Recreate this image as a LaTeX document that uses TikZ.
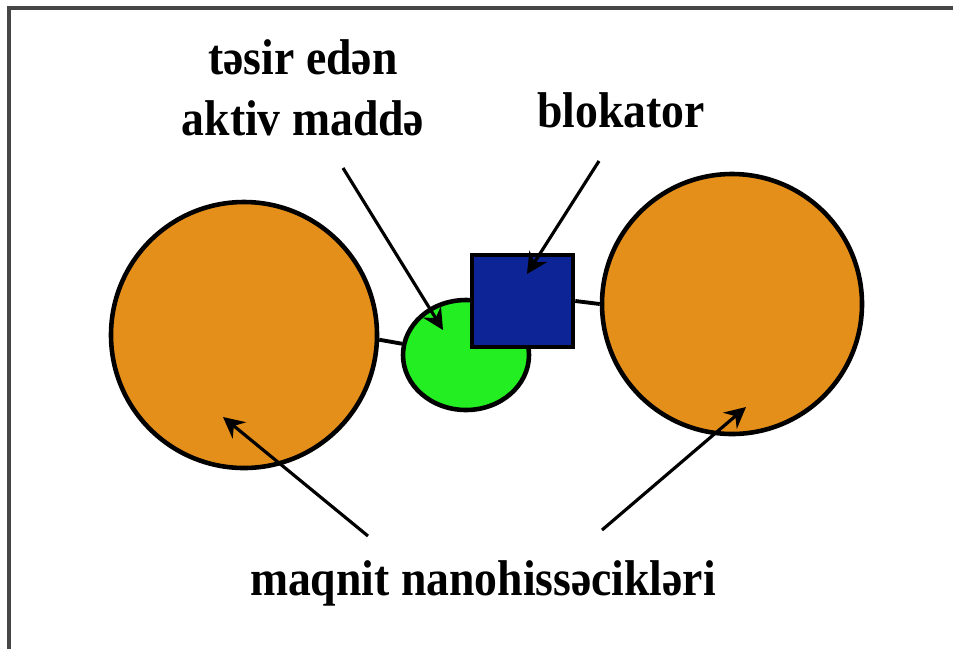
\documentclass[tikz,border=0pt]{standalone}
\usepackage{fontspec}
\setmainfont{Liberation Serif}
\usepackage{xcolor}
\usetikzlibrary{shapes.geometric,arrows.meta,positioning}
\definecolor{nanoorange}{RGB}{229,143,27}
\definecolor{druggreen}{RGB}{34,238,34}
\definecolor{blockblue}{RGB}{12,36,150}
\definecolor{framegray}{RGB}{70,70,70}

\begin{document}
\begin{tikzpicture}[
    particle/.style={draw, circle, fill=nanoorange, line width=1.3pt, inner sep=0pt},
    drug/.style={draw, ellipse, fill=druggreen, line width=1.3pt, inner sep=0pt,
                 minimum width=1.26cm, minimum height=1.10cm},
    blocker/.style={draw, rectangle, fill=blockblue, line width=1.3pt, inner sep=0pt,
                    minimum width=1.01cm, minimum height=0.92cm},
    link/.style={line width=1.1pt},
    pointer/.style={-{Stealth[length=6pt,width=6pt,inset=2pt]}, line width=0.9pt},
    lbl/.style={font=\bfseries\fontsize{13}{15.6}\selectfont, inner sep=0pt, align=center, yscale=1.1}
]
    \useasboundingbox (0,0) rectangle (9.53,-6.49);
    % Frame (top and left edges)
    \draw[framegray, line width=0.9pt] (9.53,-0.08) -- (0.09,-0.08) -- (0.09,-6.49);

    % Particles
    \node[particle, minimum size=2.66cm] (left) at (2.44,-3.35) {};
    \node[particle, minimum size=2.60cm] (right) at (7.32,-3.04) {};
    \node[drug] (drug) at (4.66,-3.55) {};
    \node[blocker] (block) at (5.225,-3.01) {};

    % Bonds
    \draw[link] (left.-2) -- (drug.170);
    \draw[link] (block.east) -- (right.180);

    % Labels
    \node[lbl, anchor=base] (druglbl) at (3.03,-1.35) {təsir edən\\aktiv maddə};
    \node[lbl, anchor=base] (blocklbl) at (6.21,-1.27) {blokator};
    \node[lbl, anchor=base] (nanolbl) at (4.83,-5.95) {maqnit nanohissəcikləri};

    % Arrow ends
    \coordinate (a1) at (3.43,-1.68);
    \coordinate (t1) at (4.43,-3.30);
    \coordinate (a2) at (5.99,-1.61);
    \coordinate (t2) at (5.27,-2.74);
    \coordinate (a3) at (3.68,-5.36);
    \coordinate (t3) at (2.23,-4.17);
    \coordinate (a4) at (6.02,-5.30);
    \coordinate (t4) at (7.46,-4.07);

    % Arrows
    \draw[pointer] (a1) -- (t1);
    \draw[pointer] (a2) -- (t2);
    \draw[pointer] (a3) -- (t3);
    \draw[pointer] (a4) -- (t4);
\end{tikzpicture}
\end{document}
